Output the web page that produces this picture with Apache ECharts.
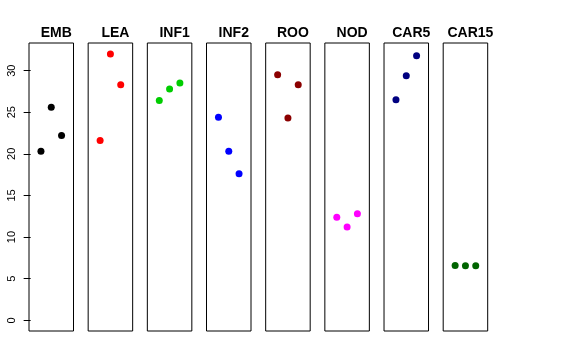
<!DOCTYPE html>
<html>
<head>
<meta charset="utf-8">
<script src="https://cdn.jsdelivr.net/npm/echarts@6/dist/echarts.min.js"></script>
<style>html,body{margin:0;padding:0;background:#fff}#c{width:576px;height:360px}</style>
</head>
<body>
<div id="c"></div>
<script>
var panels = ['EMB','LEA','INF1','INF2','ROO','NOD','CAR5','CAR15'];
var xPos = [1, 2, 3];
var EMB   = [20.3, 25.6, 22.2];
var LEA   = [21.6, 32.0, 28.3];
var INF1  = [26.4, 27.8, 28.5];
var INF2  = [24.4, 20.3, 17.6];
var ROO   = [29.5, 24.3, 28.3];
var NOD   = [12.4, 11.2, 12.8];
var CAR5  = [26.5, 29.4, 31.8];
var CAR15 = [6.6, 6.55, 6.55];
var yTicks = [0, 5, 10, 15, 20, 25, 30];
var colors = ['#000000','#FF0000','#00CD00','#0000FF','#8B0000','#FF00FF','#000080','#006400'];
var values = [EMB, LEA, INF1, INF2, ROO, NOD, CAR5, CAR15];

var L0 = 29, STEP = 59.17, W = 44.5, TOP = 43, H = 288;
var grids = [], xAxes = [], yAxes = [], series = [], titles = [];
panels.forEach(function (name, i) {
  var left = L0 + i * STEP;
  grids.push({left: left, top: TOP, width: W, height: H, show: true,
    borderColor: '#000', borderWidth: 1, backgroundColor: 'transparent', containLabel: false});
  xAxes.push({type: 'value', gridIndex: i, min: -0.16, max: 4.16, show: false});
  yAxes.push({type: 'value', gridIndex: i, min: -1.28, max: 33.32,
    show: i === 0,
    axisLine: {show: false},
    splitLine: {show: false},
    axisTick: {show: i === 0, length: 7, customValues: yTicks, lineStyle: {color: '#000'}},
    axisLabel: {show: i === 0, customValues: yTicks, rotate: 90, margin: 12,
      fontFamily: 'Liberation Sans, Arial, sans-serif', fontSize: 11, color: '#000'}
  });
  series.push({type: 'scatter', xAxisIndex: i, yAxisIndex: i, symbol: 'circle', symbolSize: 7,
    itemStyle: {color: colors[i], opacity: 1},
    emphasis: {disabled: true},
    data: xPos.map(function (x, k) { return [x, values[i][k]]; })
  });
  titles.push({text: name, left: left + W / 2, top: 21, textAlign: 'center',
    textStyle: {fontFamily: 'Liberation Sans, Arial, sans-serif', fontSize: 14, fontWeight: 'bold', color: '#000'}});
});

var chart = echarts.init(document.getElementById('c'), null, {renderer: 'canvas'});
chart.setOption({
  animation: false,
  backgroundColor: '#fff',
  title: titles,
  grid: grids,
  xAxis: xAxes,
  yAxis: yAxes,
  series: series
});
</script>
</body>
</html>
